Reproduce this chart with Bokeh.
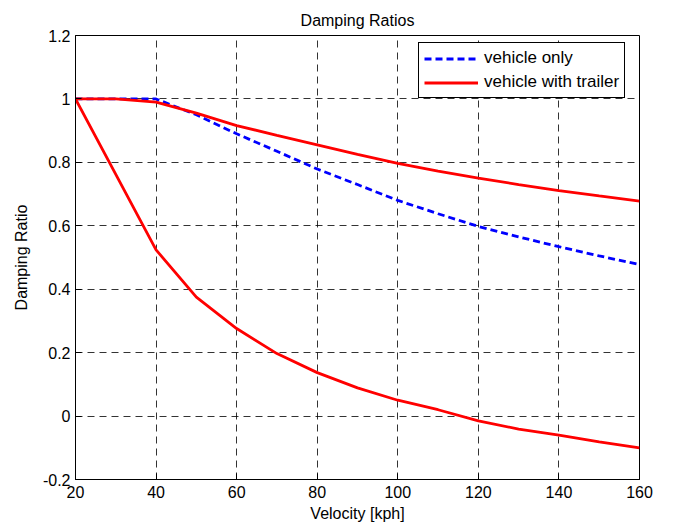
from bokeh.plotting import figure
from bokeh.models import Legend, LegendItem, Range1d, FixedTicker
from bokeh.embed import file_html
from bokeh.resources import INLINE

velocity = [20, 30, 40, 50, 60, 70, 80, 90, 100, 110, 120, 130, 140, 150, 160]
vehicle_only = [1.0, 1.0, 1.0, 0.95, 0.89, 0.835, 0.779, 0.73, 0.68, 0.638, 0.598, 0.565, 0.534, 0.505, 0.478]
trailer_mode1 = [1.0, 1.0, 0.99, 0.955, 0.916, 0.885, 0.855, 0.825, 0.797, 0.772, 0.75, 0.73, 0.711, 0.694, 0.678]
trailer_mode2 = [1.0, 0.762, 0.524, 0.375, 0.276, 0.197, 0.137, 0.089, 0.05, 0.02, -0.015, -0.041, -0.06, -0.081, -0.10]

x_ticks = [20, 40, 60, 80, 100, 120, 140, 160]
y_ticks = [-0.2, 0, 0.2, 0.4, 0.6, 0.8, 1.0, 1.2]
y_tick_labels = {-0.2: "-0.2", 0: "0", 0.2: "0.2", 0.4: "0.4", 0.6: "0.6", 0.8: "0.8", 1.0: "1", 1.2: "1.2"}

FONT = "Liberation Sans"

p = figure(frame_width=564, frame_height=444, output_backend="svg", toolbar_location=None,
           x_range=Range1d(20, 160), y_range=Range1d(-0.2, 1.2),
           min_border_left=75, min_border_right=47, min_border_top=35, min_border_bottom=48,
           title="Damping Ratios")
p.title.align = "center"
p.title.text_font = FONT
p.title.text_font_size = "16px"
p.title.text_font_style = "normal"
p.title.text_color = "black"
p.title.standoff = 14

p.outline_line_color = "black"
p.outline_line_width = 1
p.outline_line_alpha = 1

for ax in (p.xaxis[0], p.yaxis[0]):
    ax.major_tick_in = 6
    ax.major_tick_out = 0
    ax.minor_tick_line_color = None
    ax.axis_line_color = "black"
    ax.major_tick_line_color = "black"
    ax.major_label_text_font = FONT
    ax.major_label_text_font_size = "16px"
    ax.major_label_text_color = "black"
    ax.axis_label_text_font = FONT
    ax.axis_label_text_font_size = "16px"
    ax.axis_label_text_font_style = "normal"
    ax.axis_label_text_color = "black"

p.xaxis.ticker = FixedTicker(ticks=x_ticks)
p.yaxis.ticker = FixedTicker(ticks=y_ticks)
p.yaxis.major_label_overrides = y_tick_labels
p.xaxis.axis_label = "Velocity [kph]"
p.yaxis.axis_label = "Damping Ratio"
p.xaxis.major_label_standoff = 6
p.xaxis.axis_label_standoff = 4
p.yaxis.major_label_standoff = 5
p.yaxis.axis_label_standoff = 10

for g in (p.xgrid[0], p.ygrid[0]):
    g.grid_line_color = "black"
    g.grid_line_alpha = 0.8
    g.grid_line_dash = "7 5"
    g.grid_line_width = 1

r_blue = p.line(velocity, vehicle_only, line_color="blue", line_width=2.8, line_dash="7 4")
r_red1 = p.line(velocity, trailer_mode1, line_color="red", line_width=2.8)
r_red2 = p.line(velocity, trailer_mode2, line_color="red", line_width=2.8)

legend = Legend(items=[LegendItem(label="vehicle only", renderers=[r_blue]),
                       LegendItem(label="vehicle with trailer", renderers=[r_red1])],
                location=(343, 381), margin=0, padding=5, spacing=4,
                glyph_width=54, glyph_height=19, label_height=19, label_standoff=6,
                label_text_font=FONT, label_text_font_size="17px", label_text_color="black",
                border_line_color="black", border_line_width=1, border_line_alpha=1,
                background_fill_color="white", background_fill_alpha=1)
p.add_layout(legend, "center")

open("out.html", "w").write(file_html(p, INLINE))
